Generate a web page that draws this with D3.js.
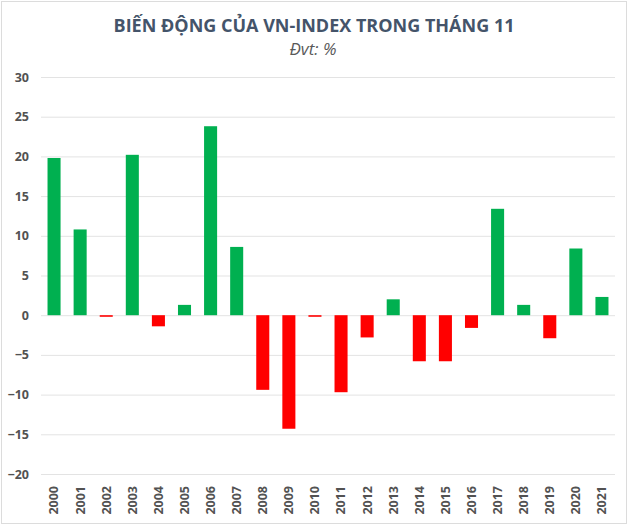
<!DOCTYPE html>
<head>
  <meta charset="utf-8">
  <style>
  body { margin: 0; background: #fff; }
  .chart { display: block; }
  .axis text { font-family: "Open Sans", sans-serif; font-weight: bold; fill: #525252; }
  .axis path, .axis line { display: none; }
  .grid line { stroke: #e3e3e3; stroke-width: 1px; }
  .grid path { display: none; }
</style>
</head>
<svg class="chart" width="630" height="526"></svg>

<script src="https://cdn.jsdelivr.net/npm/d3@7"></script>
<script>
var years = ["2000", "2001", "2002", "2003", "2004", "2005", "2006", "2007", "2008", "2009", "2010",
  "2011", "2012", "2013", "2014", "2015", "2016", "2017", "2018", "2019", "2020", "2021"];
var changes = [19.8, 10.8, -0.2, 20.2, -1.4, 1.3, 23.8, 8.6, -9.4, -14.3, -0.2,
  -9.7, -2.8, 2.0, -5.8, -5.8, -1.6, 13.4, 1.3, -2.9, 8.4, 2.3];
var yTicks = [-20, -15, -10, -5, 0, 5, 10, 15, 20, 25, 30];

var svg = d3.select("svg");

// khung ngoài
svg.append("rect")
  .attr("x", 1.5).attr("y", 1.5)
  .attr("width", 625).attr("height", 522)
  .attr("fill", "#fff")
  .attr("stroke", "#dcdcdc");

svg.append("text")
  .attr("x", 314).attr("y", 32)
  .attr("text-anchor", "middle")
  .style("font", "bold 18px 'Open Sans', sans-serif")
  .style("fill", "#44546a")
  .text("BIẾN ĐỘNG CỦA VN-INDEX TRONG THÁNG 11");

svg.append("text")
  .attr("x", 313).attr("y", 55)
  .attr("text-anchor", "middle")
  .style("font", "italic 17px 'Open Sans', sans-serif")
  .style("fill", "#595959")
  .text("Đvt: %");

var x = d3.scaleBand().domain(years).range([41, 615]).paddingInner(0.5).paddingOuter(0.25);
var y = d3.scaleLinear().domain([-20, 30]).range([474, 77]);

svg.append("g")
  .attr("class", "grid")
  .attr("transform", "translate(41,0)")
  .call(d3.axisLeft(y).tickValues(yTicks).tickSize(-574).tickFormat(""));

svg.append("g")
  .attr("class", "axis")
  .attr("transform", "translate(29,0)")
  .call(d3.axisLeft(y).tickValues(yTicks).tickSize(0).tickPadding(0))
  .selectAll("text")
  .style("font-size", "12.5px");

svg.selectAll(".bar")
  .data(changes)
  .enter()
  .append("rect")
  .attr("class", "bar")
  .attr("x", function(d, i) { return x(years[i]); })
  .attr("width", x.bandwidth())
  .attr("y", function(d) { return y(Math.max(0, d)); })
  .attr("height", function(d) { return Math.abs(y(d) - y(0)); })
  .attr("fill", function(d) { return d >= 0 ? "#00b050" : "#ff0000"; });

var xAxis = svg.append("g")
  .attr("class", "axis")
  .attr("transform", "translate(0,486)")
  .call(d3.axisBottom(x).tickSize(0).tickPadding(0));

xAxis.selectAll("text")
  .attr("transform", "rotate(-90)")
  .attr("text-anchor", "end")
  .attr("x", 0)
  .attr("y", 0)
  .attr("dy", "0.35em")
  .style("font-size", "12.5px");
</script>
